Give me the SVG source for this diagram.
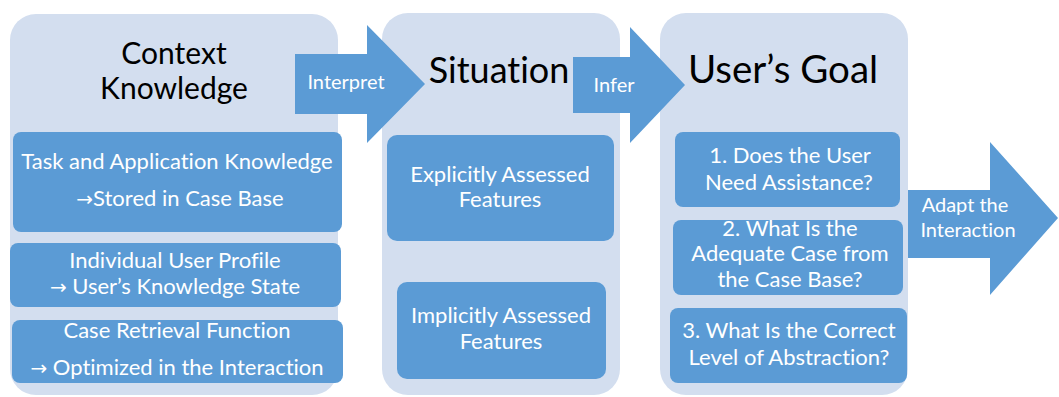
<svg xmlns="http://www.w3.org/2000/svg" width="1059" height="397" viewBox="0 0 1059 397">
<style>
.panel{fill:#D3DEEF}
.box{fill:#5B9BD5}
.arrow{fill:#5B9BD5}
text{font-family:Lato,"Open Sans","Noto Sans",sans-serif;text-anchor:middle;font-variant-ligatures:none;font-feature-settings:"liga" 0}
.head{fill:#000000}
.w{fill:#FFFFFF;font-size:22px}
.lbl{fill:#FFFFFF;font-size:20px}
.ar{font-family:"DejaVu Sans",sans-serif;font-size:20px}
</style>
<rect width="1059" height="397" fill="#FFFFFF"/>
<g id="panel-context">
<rect class="panel" x="10" y="14" width="328" height="381" rx="26"/>
<text class="head" x="174" y="64" font-size="30">Context</text>
<text class="head" x="174" y="99" font-size="30">Knowledge</text>
</g>
<g id="panel-situation">
<rect class="panel" x="382" y="13" width="238" height="382" rx="26"/>
<text class="head" x="499" y="83" font-size="36">Situation</text>
</g>
<g id="panel-goal">
<rect class="panel" x="660" y="13" width="248" height="382" rx="26"/>
<text class="head" x="783" y="83" font-size="38.5">User’s Goal</text>
</g>
<g id="box-task">
<rect class="box" x="13" y="132" width="329" height="100" rx="8"/>
<text class="w" x="177" y="169">Task and Application Knowledge</text>
<text class="w" x="180" y="206"><tspan class="ar">→</tspan>Stored in Case Base</text>
</g>
<g id="box-profile">
<rect class="box" x="10" y="243" width="331" height="64" rx="8"/>
<text class="w" x="175" y="268">Individual User Profile</text>
<text class="w" x="175" y="294"><tspan class="ar">→</tspan> User’s Knowledge State</text>
</g>
<g id="box-retrieval">
<rect class="box" x="12" y="320" width="331" height="63" rx="8"/>
<text class="w" x="177" y="338">Case Retrieval Function</text>
<text class="w" x="177" y="375"><tspan class="ar">→</tspan> Optimized in the Interaction</text>
</g>
<g id="box-explicit">
<rect class="box" x="387" y="135" width="227" height="106" rx="10"/>
<text class="w" x="500" y="182">Explicitly Assessed</text>
<text class="w" x="500" y="207">Features</text>
</g>
<g id="box-implicit">
<rect class="box" x="397" y="282" width="209" height="97" rx="10"/>
<text class="w" x="501" y="323">Implicitly Assessed</text>
<text class="w" x="501" y="349">Features</text>
</g>
<g id="box-q1">
<rect class="box" x="675" y="132" width="225" height="75" rx="8"/>
<text class="w" x="790" y="163">1. Does the User</text>
<text class="w" x="789" y="190">Need Assistance?</text>
</g>
<g id="box-q2">
<rect class="box" x="673" y="220" width="230" height="75" rx="8"/>
<text class="w" x="790" y="236">2. What Is the</text>
<text class="w" x="790" y="261">Adequate Case from</text>
<text class="w" x="790" y="287">the Case Base?</text>
</g>
<g id="box-q3">
<rect class="box" x="670" y="308" width="237" height="75" rx="8"/>
<text class="w" x="789" y="338">3. What Is the Correct</text>
<text class="w" x="789" y="365">Level of Abstraction?</text>
</g>
<g id="connectors">
<g id="arrow-interpret">
<polygon class="arrow" points="295,54 367,54 367,25 425,84 367,143 367,114 295,114"/>
<text class="lbl" x="346" y="89">Interpret</text>
</g>
<g id="arrow-infer">
<polygon class="arrow" points="573,57 630,57 630,27 685,85 630,143 630,113 573,113"/>
<text class="lbl" x="614" y="92">Infer</text>
</g>
<g id="arrow-adapt">
<polygon class="arrow" points="908,190 990,190 990,142 1058,218 990,295 990,258 908,258"/>
<text class="lbl" x="965" y="212">Adapt the</text>
<text class="lbl" x="968" y="237">Interaction</text>
</g>
</g>
</svg>
